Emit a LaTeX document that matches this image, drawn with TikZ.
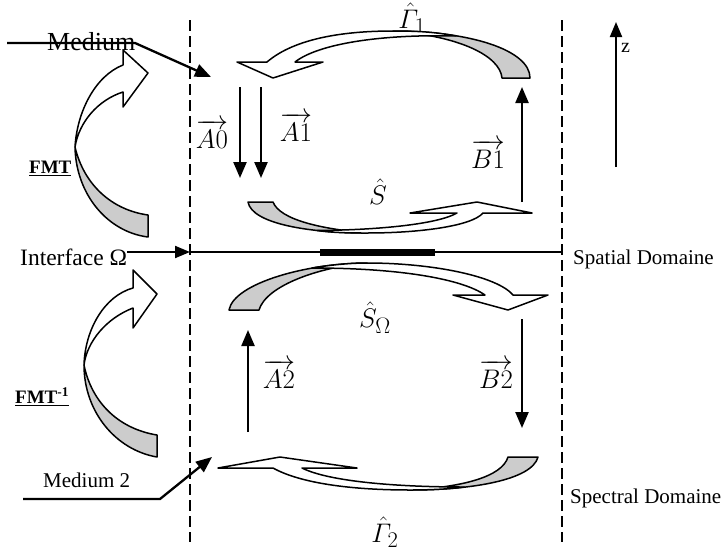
\RequirePackage{fix-cm}
\documentclass[tikz,border=0pt]{standalone}
\usepackage{amsmath}
\usepackage[no-math]{fontspec}
\setmainfont{Liberation Serif}
\usetikzlibrary{arrows.meta}
\definecolor{backgray}{gray}{0.8}
\tikzset{
  vecarrow/.style={line width=2.3pt,-{Triangle[length=16pt,width=13pt]}},
  thinarrow/.style={line width=2pt,-{Triangle[length=15pt,width=12pt]}},
  domline/.style={line width=1.3pt,dash pattern=on 11pt off 5pt},
  backband/.style={draw,line width=1.5pt,fill=backgray,line join=round},
  frontband/.style={draw,line width=1.5pt,fill=white,line join=round},
  txt/.style={inner sep=0pt,anchor=base west,font=\fontsize{21}{24}\selectfont},
  mlbl/.style={inner sep=0pt,font=\fontsize{24.88}{30}\selectfont,scale=1.08,transform shape},
}
\begin{document}
\begin{tikzpicture}[x=1pt,y=-1pt]
\useasboundingbox (0,0) rectangle (722,552);
% domain limits
\foreach \x in {190,562}
  \draw[domline] (\x,20) -- (\x,542);
% labels under the loops
\node[mlbl] (gam1) at (412,18) {$\hat{\varGamma}_1$};
\node[mlbl] (gam2) at (385,532) {$\hat{\varGamma}_2$};
\node[mlbl] (shat) at (378,192) {$\hat{S}$};
\node[mlbl] (shom) at (375,318) {$\hat{S}_\Omega$};
% interface
\coordinate (ifT) at (190,252);
\coordinate (ifR) at (562,252);
\draw[line width=1.5pt] (ifT) -- (ifR);
\draw[line width=7pt] (320,252) -- (435,252);
\node[txt,font=\fontsize{23.5}{26}\selectfont] (iface) at (20,265) {Interface Ω};
\draw[thinarrow] (iface.east |- ifT) -- (ifT);
% media
\node[txt,font=\fontsize{26}{30}\selectfont] (med1) at (47,50) {Medium};
\coordinate (m1a) at (7,43);
\coordinate (m1b) at (135,43);
\coordinate (m1c) at (211,77);
\draw[vecarrow] (m1a) -- (m1b) -- (m1c);
\node[txt] (med2) at (43,487) {Medium 2};
\coordinate (m2a) at (23,499);
\coordinate (m2b) at (160,499);
\coordinate (m2c) at (212,457);
\draw[vecarrow] (m2a) -- (m2b) -- (m2c);
% domains
\node[txt] (spat) at (573,264) {Spatial Domaine};
\node[txt] (spec) at (570,503) {Spectral Domaine};
% z axis
\coordinate (zb) at (616,167);
\coordinate (zt) at (616,22);
\draw[thinarrow] (zb) -- (zt);
\node[txt,font=\fontsize{20}{24}\selectfont] (zlab) at (621,52) {z};
% loop Gamma 1
\draw[backband] (393,31) .. controls (470,31) and (530,50) .. (530,78) -- (502,78)
  .. controls (500,56) and (460,36) .. (393,31) -- cycle;
\draw[frontband] (237,62) -- (267,62) .. controls (295,38) and (345,31) .. (393,31)
  .. controls (418,31) and (435,32) .. (456,36) .. controls (380,34) and (318,44) .. (295,62)
  -- (323,62) -- (273,78) -- cycle;
% loop S
\draw[backband] (248,202) .. controls (252,224) and (310,233) .. (367,233)
  .. controls (322,229) and (280,220) .. (273,202) -- cycle;
\draw[frontband] (317,230.5) .. controls (335,233) and (352,233) .. (367,233)
  .. controls (420,233) and (472,226) .. (483,213) -- (532,213) -- (477,202) -- (410,213)
  -- (457,213) .. controls (438,224) and (380,230) .. (317,230.5) -- cycle;
% loop S Omega
\draw[backband] (229,310) .. controls (234,283) and (308,263) .. (367,263)
  .. controls (318,267) and (266,286) .. (259,310) -- cycle;
\draw[frontband] (312,268) .. controls (330,265) and (350,263) .. (367,263)
  .. controls (432,263) and (497,276) .. (513,295) -- (548,295) -- (508,310) -- (453,295)
  -- (485,295) .. controls (462,279) and (400,268) .. (312,268) -- cycle;
% loop Gamma 2
\draw[backband] (538,457) .. controls (532,480) and (472,490) .. (410,490)
  .. controls (462,487) and (502,477) .. (508,457) -- cycle;
\draw[frontband] (218,468) -- (273,468) .. controls (300,483) and (350,490) .. (410,490)
  .. controls (430,490) and (450,489) .. (464,487) .. controls (400,487) and (330,482) .. (302,468)
  -- (357,468) -- (280,457) -- cycle;
% FMT arrows
\draw[backband] (75,147) .. controls (76,195) and (108,232) .. (148,237) -- (148,215)
  .. controls (112,210) and (84,185) .. (75,147) -- cycle;
\draw[frontband] (123,50) -- (148,73) -- (123,107) -- (123,92)
  .. controls (98,100) and (79,122) .. (75,147) .. controls (77,112) and (95,76) .. (123,65) -- cycle;
\draw[backband] (84,365) .. controls (84,412) and (116,450) .. (157,457) -- (157,435)
  .. controls (120,429) and (92,404) .. (84,365) -- cycle;
\draw[frontband] (133,270) -- (157,294) -- (133,328) -- (133,308)
  .. controls (107,318) and (87,341) .. (84,365) .. controls (85,330) and (104,296) .. (133,288) -- cycle;
\node[txt,font=\fontsize{19}{22}\selectfont\bfseries] (fmt) at (29,173) {\underline{FMT}};
\node[txt,font=\fontsize{19}{22}\selectfont\bfseries] (fmtinv) at (15,403) {\underline{FMT\textsuperscript{-1}}};
% wave vectors
\coordinate (a0t) at (240,87);  \coordinate (a0b) at (240,178);
\coordinate (a1t) at (261,87);  \coordinate (a1b) at (261,178);
\coordinate (b1b) at (522,202); \coordinate (b1t) at (522,87);
\coordinate (a2b) at (248,432); \coordinate (a2t) at (248,330);
\coordinate (b2t) at (522,319); \coordinate (b2b) at (522,428);
\draw[vecarrow] (a0t) -- (a0b);
\draw[vecarrow] (a1t) -- (a1b);
\draw[vecarrow] (b1b) -- (b1t);
\draw[vecarrow] (a2b) -- (a2t);
\draw[vecarrow] (b2t) -- (b2b);
\node[mlbl] (la0) at (212,134) {$\overrightarrow{A0}$};
\node[mlbl] (la1) at (296,127) {$\overrightarrow{A1}$};
\node[mlbl] (lb1) at (488,154) {$\overrightarrow{B1}$};
\node[mlbl] (la2) at (279,374) {$\overrightarrow{A2}$};
\node[mlbl] (lb2) at (496,374) {$\overrightarrow{B2}$};
\end{tikzpicture}
\end{document}
